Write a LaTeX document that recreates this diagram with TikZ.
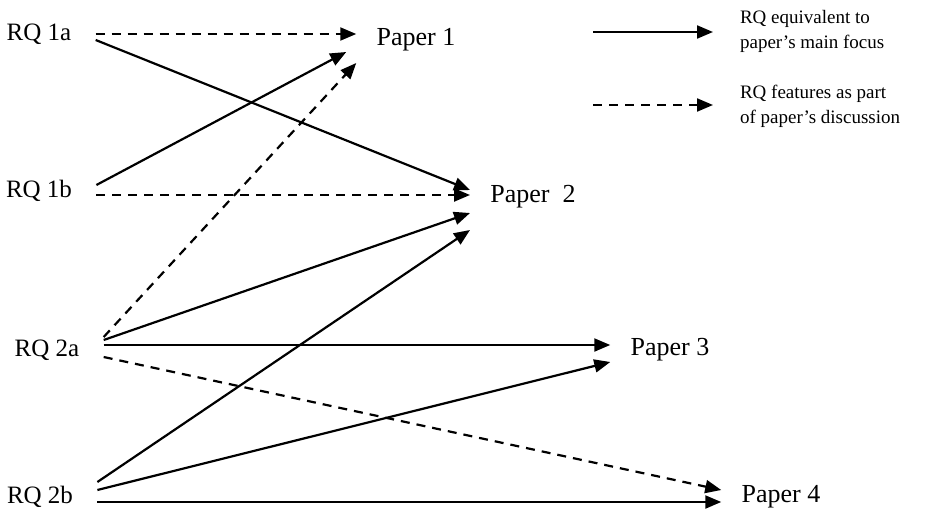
\documentclass[tikz,border=0pt]{standalone}
\usepackage{fontspec}
\setmainfont{Liberation Serif}
\usetikzlibrary{arrows.meta}

\begin{document}
\begin{tikzpicture}[x=0.5pt, y=-0.5pt,
    rq/.style={inner xsep=12pt, inner ysep=2pt, font=\fontsize{12.5}{14}\selectfont},
    paper/.style={inner xsep=10pt, inner ysep=2pt, font=\fontsize{13}{14}\selectfont},
    legendtext/.style={anchor=west, align=left, font=\fontsize{9.5}{12.5}\selectfont},
    focus/.style={-{Triangle[length=8pt, width=6.5pt]}, line width=1.1pt},
    discuss/.style={focus, dash pattern=on 4.5pt off 3.5pt}]
        \useasboundingbox (0, 0) rectangle (931, 509);

        \node[rq] (rq1a) at (39, 34) {RQ 1a};
        \node[rq] (rq1b) at (39, 191) {RQ 1b};
        \node[rq] (rq2a) at (47, 350) {RQ 2a};
        \node[rq] (rq2b) at (40, 497) {RQ 2b};

        \node[paper] (p1) at (416, 40) {Paper 1};
        \node[paper] (p2) at (533, 197) {Paper\ \ 2};
        \node[paper] (p3) at (670, 350) {Paper 3};
        \node[paper] (p4) at (781, 497) {Paper 4};

        % RQ 1a and RQ 1b
        \draw[discuss] (rq1a.east) -- ([yshift=3pt]p1.west);
        \draw[focus] ([yshift=-3pt]rq1a.east) -- ([yshift=3.5pt]p2.west);
        \draw[focus] ([yshift=3pt]rq1b.east) -- ([xshift=-5pt, yshift=-6pt]p1.west);
        \draw[discuss] ([yshift=-2pt]rq1b.east) -- ([yshift=1pt]p2.west);

        % RQ 2a and RQ 2b
        \draw[discuss] ([yshift=6.5pt]rq2a.east) -- ([yshift=-11.5pt]p1.west);
        \draw[focus] ([yshift=5pt]rq2a.east) -- ([yshift=-8pt]p2.west);
        \draw[focus] ([yshift=2.5pt]rq2a.east) -- ([yshift=2.5pt]p3.west);
        \draw[discuss] ([yshift=-3.5pt]rq2a.east) -- ([yshift=3.5pt]p4.west);
        \draw[focus] ([yshift=7.5pt]rq2b.east) -- ([yshift=-16.5pt]p2.west);
        \draw[focus] ([yshift=3.5pt]rq2b.east) -- ([yshift=-6pt]p3.west);
        \draw[focus] ([yshift=-2.5pt]rq2b.east) -- ([yshift=-2.5pt]p4.west);

        % legend
        \coordinate (fs) at (593, 32);
        \coordinate (fe) at (713, 32);
        \coordinate (ds) at (593, 105);
        \coordinate (de) at (713, 105);
        \draw[focus] (fs) -- (fe);
        \draw[discuss] (ds) -- (de);
        \node[legendtext] (lfocus) at (733, 31) {RQ equivalent to\\paper's main focus};
        \node[legendtext] (ldiscuss) at (733, 106) {RQ features as part\\of paper's discussion};
\end{tikzpicture}
\end{document}
